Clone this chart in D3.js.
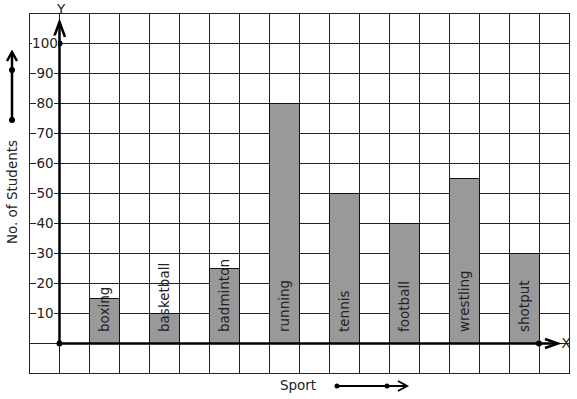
<!DOCTYPE html>
<html>
<head>
<meta charset="utf-8">
<script src="https://cdn.jsdelivr.net/npm/d3@7"></script>
<style>
  body { margin: 0; background: #fff; }
  text { font-family: "DejaVu Sans", sans-serif; }
</style>
</head>
<body>
<svg id="chart" width="577" height="399"></svg>
<script>
const sports = ['boxing', 'basketball', 'badminton', 'running', 'tennis', 'football', 'wrestling', 'shotput'];
const students = [15, 10, 25, 80, 50, 40, 55, 30];
const yTicks = [10, 20, 30, 40, 50, 60, 70, 80, 90, 100];

const svg = d3.select('#chart');

// grid units: one cell = 30px, origin one cell in from the left
const x = d3.scaleLinear().domain([-1, 17]).range([29, 569]);
const y = d3.scaleLinear().domain([-10, 110]).range([373, 13]);

// grid
const grid = svg.append('g').attr('stroke', '#222').attr('stroke-width', 1);
d3.range(-1, 18).forEach(v => {
    grid.append('line')
        .attr('x1', x(v) + 0.5).attr('x2', x(v) + 0.5)
        .attr('y1', y(110)).attr('y2', y(-10));
});
d3.range(-10, 120, 10).forEach(v => {
    grid.append('line')
        .attr('x1', x(-1)).attr('x2', x(17) + 1)
        .attr('y1', y(v) + 0.5).attr('y2', y(v) + 0.5);
});

// bars
svg.selectAll('.bar')
    .data(sports)
    .enter()
    .append('rect')
    .attr('class', 'bar')
    .attr('x', (d, i) => x(1 + 2 * i) + 0.5)
    .attr('y', (d, i) => y(students[i]) + 0.5)
    .attr('width', x(1) - x(0))
    .attr('height', (d, i) => y(0) - y(students[i]))
    .attr('fill', '#999')
    .attr('stroke', '#111')
    .attr('stroke-width', 1);

// bar labels
svg.selectAll('.blabel')
    .data(sports)
    .enter()
    .append('text')
    .attr('class', 'blabel')
    .attr('transform', (d, i) => `translate(${x(1.5 + 2 * i) + 5}, ${y(0) - 11}) rotate(-90)`)
    .attr('font-size', 13.5)
    .attr('fill', '#222')
    .text(d => d);

// axes
const axes = svg.append('g').attr('stroke', '#000').attr('stroke-width', 2.5).attr('fill', 'none');
axes.append('line')
    .attr('x1', x(0) + 0.5).attr('x2', x(0) + 0.5)
    .attr('y1', y(0)).attr('y2', y(106));
axes.append('path')
    .attr('d', `M${x(0) - 5},${y(102)} L${x(0) + 0.5},${y(106) - 3} L${x(0) + 6},${y(102)}`);
axes.append('line')
    .attr('x1', x(0)).attr('x2', x(16.5))
    .attr('y1', y(0) + 0.5).attr('y2', y(0) + 0.5);
axes.append('path')
    .attr('d', `M${x(16.2)},${y(0) - 4} L${x(16.6) + 1},${y(0) + 0.5} L${x(16.2)},${y(0) + 5}`);

[[x(0) + 0.5, y(100) + 0.5], [x(0) + 0.5, y(0) + 0.5], [x(16), y(0) + 0.5]].forEach(p => {
    svg.append('circle').attr('cx', p[0]).attr('cy', p[1]).attr('r', 3).attr('fill', '#000');
});

svg.append('text').attr('x', x(0) + 2).attr('y', 14).attr('text-anchor', 'middle')
    .attr('font-size', 13.5).attr('fill', '#222').text('Y');
svg.append('text').attr('x', x(16.8) + 3).attr('y', y(0) + 5).attr('text-anchor', 'middle')
    .attr('font-size', 13.5).attr('fill', '#222').text('X');

// y tick labels with white backing over the grid line
const tl = svg.selectAll('.ytick')
    .data(yTicks)
    .enter()
    .append('g')
    .attr('class', 'ytick')
    .attr('transform', d => `translate(${x(-0.5) + 1}, ${y(d) + 0.5})`);
tl.append('rect')
    .attr('x', d => d >= 100 ? -13 : -9).attr('y', -8)
    .attr('width', d => d >= 100 ? 26 : 18).attr('height', 16)
    .attr('fill', '#fff');
tl.append('text')
    .attr('text-anchor', 'middle')
    .attr('dy', '0.35em')
    .attr('font-size', 13.5)
    .attr('fill', '#222')
    .text(d => d);

// y title + arrow
svg.append('text')
    .attr('transform', 'translate(17, 192) rotate(-90)')
    .attr('text-anchor', 'middle')
    .attr('font-size', 13.5)
    .attr('fill', '#222')
    .text('No. of Students');
const ya = svg.append('g').attr('stroke', '#000').attr('stroke-width', 2.5).attr('fill', 'none');
ya.append('line').attr('x1', 12).attr('x2', 12).attr('y1', 120).attr('y2', 53);
ya.append('path').attr('d', 'M7,61 L12,52 L17,61');
svg.append('circle').attr('cx', 12).attr('cy', 120).attr('r', 3).attr('fill', '#000');
svg.append('circle').attr('cx', 12).attr('cy', 70).attr('r', 3).attr('fill', '#000');

// x title + arrow
svg.append('text')
    .attr('x', 298).attr('y', 390)
    .attr('text-anchor', 'middle')
    .attr('font-size', 13.5)
    .attr('fill', '#222')
    .text('Sport');
const xa = svg.append('g').attr('stroke', '#000').attr('stroke-width', 2).attr('fill', 'none');
xa.append('line').attr('x1', 337).attr('x2', 405).attr('y1', 386).attr('y2', 386);
xa.append('path').attr('d', 'M398,381 L407,386 L398,391');
svg.append('circle').attr('cx', 337).attr('cy', 386).attr('r', 2.5).attr('fill', '#000');
svg.append('circle').attr('cx', 387).attr('cy', 386).attr('r', 2.5).attr('fill', '#000');
</script>
</body>
</html>
